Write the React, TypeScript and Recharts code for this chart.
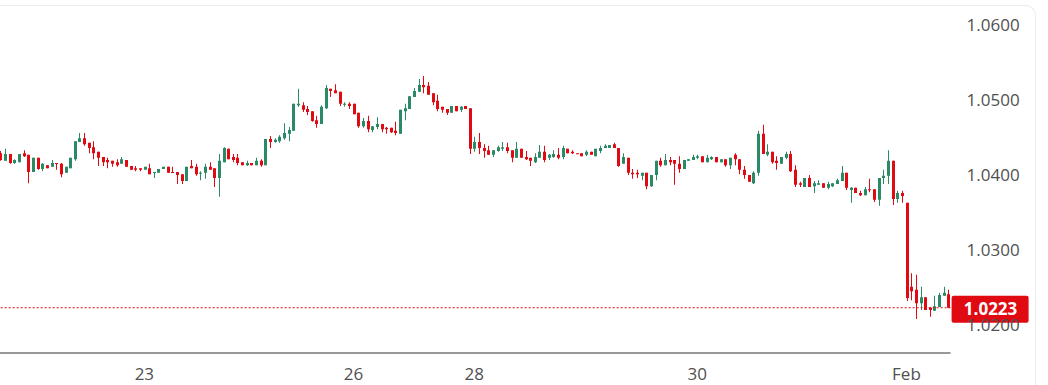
import React from 'react';
import { Bar, ComposedChart, ReferenceLine, XAxis, YAxis } from 'recharts';

// hourly EUR/USD candles, oldest first
const opens = [
  1.0429, 1.0419, 1.0428, 1.0416, 1.0417, 1.0429, 1.0427, 1.0404, 1.0423, 1.0408,
  1.0413, 1.0411, 1.0416, 1.0415, 1.0403, 1.0409, 1.0421, 1.0444, 1.0449, 1.0443,
  1.0437, 1.0431, 1.0424, 1.042, 1.0419, 1.0417, 1.0415, 1.042, 1.0412, 1.0409,
  1.0409, 1.0407, 1.0409, 1.0403, 1.0403, 1.0408, 1.0411, 1.0404, 1.0404, 1.0401,
  1.0392, 1.0412, 1.0411, 1.0402, 1.0403, 1.0411, 1.0409, 1.0396, 1.0417, 1.0435,
  1.0424, 1.0423, 1.0417, 1.0413, 1.0416, 1.0413, 1.0419, 1.0413, 1.0448, 1.0444,
  1.0445, 1.0449, 1.0455, 1.0459, 1.0493, 1.0493, 1.0488, 1.0485, 1.0473, 1.0468,
  1.0489, 1.0515, 1.0513, 1.0511, 1.0494, 1.0495, 1.0495, 1.0483, 1.0465, 1.0472,
  1.046, 1.0464, 1.0468, 1.0463, 1.0463, 1.0459, 1.0455, 1.0485, 1.0488, 1.0504,
  1.0511, 1.052, 1.0519, 1.0509, 1.0499, 1.0491, 1.0488, 1.0483, 1.0492, 1.0487,
  1.0492, 1.0489, 1.0435, 1.0444, 1.0436, 1.0433, 1.0427, 1.0432, 1.0435, 1.0437,
  1.0433, 1.0423, 1.0435, 1.0424, 1.0423, 1.0417, 1.0423, 1.0431, 1.0423, 1.0424,
  1.0427, 1.0424, 1.0435, 1.0431, 1.0429, 1.0429, 1.0427, 1.0431, 1.0425, 1.0432,
  1.0436, 1.0436, 1.0441, 1.0436, 1.0415, 1.0423, 1.0403, 1.0403, 1.0399, 1.0403,
  1.0385, 1.04, 1.0419, 1.0413, 1.042, 1.042, 1.0415, 1.0408, 1.0419, 1.042,
  1.0423, 1.0425, 1.0417, 1.0421, 1.0424, 1.0417, 1.0421, 1.0413, 1.0427, 1.0421,
  1.0407, 1.04, 1.0389, 1.0403, 1.0455, 1.0427, 1.0431, 1.0419, 1.0415, 1.0423,
  1.0428, 1.0407, 1.0389, 1.0384, 1.0396, 1.0385, 1.0387, 1.0389, 1.0383, 1.0385,
  1.0388, 1.0392, 1.0403, 1.038, 1.0383, 1.0376, 1.0373, 1.0381, 1.0381, 1.0367,
  1.0396, 1.0399, 1.0419, 1.0368, 1.0376, 1.0363, 1.0251, 1.0247, 1.0229, 1.0237,
  1.0223, 1.0219, 1.0224, 1.0239, 1.0241,
];

const highs = [
  1.0432, 1.0435, 1.0428, 1.0421, 1.0428, 1.0433, 1.0427, 1.0423, 1.0423, 1.0416,
  1.0413, 1.042, 1.0416, 1.0416, 1.0411, 1.0423, 1.0445, 1.0456, 1.0456, 1.0443,
  1.0445, 1.0431, 1.0424, 1.0423, 1.0419, 1.0421, 1.0424, 1.042, 1.0412, 1.0412,
  1.0409, 1.0411, 1.0415, 1.0404, 1.0408, 1.0411, 1.0411, 1.0411, 1.0404, 1.0401,
  1.0411, 1.042, 1.0415, 1.0405, 1.0415, 1.0417, 1.0409, 1.0428, 1.0437, 1.0435,
  1.0428, 1.0428, 1.0417, 1.0419, 1.0416, 1.0423, 1.0421, 1.0448, 1.0452, 1.0449,
  1.0453, 1.0469, 1.0464, 1.0495, 1.0515, 1.0497, 1.0492, 1.0485, 1.0479, 1.0493,
  1.052, 1.0515, 1.0521, 1.0511, 1.0497, 1.0497, 1.0495, 1.0483, 1.0476, 1.0479,
  1.0465, 1.0477, 1.0468, 1.0464, 1.0463, 1.0471, 1.0487, 1.0495, 1.0505, 1.0516,
  1.0528, 1.0532, 1.0524, 1.0509, 1.0507, 1.0491, 1.0488, 1.0492, 1.0492, 1.0492,
  1.0492, 1.0489, 1.0451, 1.0456, 1.0441, 1.0439, 1.0433, 1.0439, 1.0444, 1.0443,
  1.0433, 1.0444, 1.0435, 1.0432, 1.0423, 1.0429, 1.044, 1.0439, 1.0428, 1.0433,
  1.0436, 1.0439, 1.0435, 1.0433, 1.0429, 1.0429, 1.0433, 1.0431, 1.0435, 1.0439,
  1.0441, 1.044, 1.0443, 1.0436, 1.0429, 1.0423, 1.0408, 1.0407, 1.0403, 1.0403,
  1.04, 1.0419, 1.0423, 1.0428, 1.0424, 1.042, 1.0425, 1.042, 1.0421, 1.0427,
  1.0427, 1.0425, 1.0427, 1.0425, 1.0424, 1.0421, 1.0421, 1.0423, 1.0429, 1.0421,
  1.0412, 1.04, 1.0405, 1.0459, 1.0467, 1.0441, 1.0431, 1.0425, 1.0424, 1.0431,
  1.0432, 1.0413, 1.0391, 1.0396, 1.04, 1.0392, 1.0393, 1.0389, 1.0391, 1.0389,
  1.0395, 1.0412, 1.0403, 1.0384, 1.0383, 1.0379, 1.0384, 1.0395, 1.0381, 1.0396,
  1.0407, 1.0433, 1.0419, 1.0379, 1.0379, 1.0363, 1.0269, 1.0267, 1.0251, 1.0237,
  1.0224, 1.0239, 1.0243, 1.0251, 1.0247,
];

const lows = [
  1.0419, 1.0419, 1.0415, 1.0415, 1.0417, 1.0424, 1.0389, 1.0404, 1.0407, 1.0405,
  1.0409, 1.0411, 1.0407, 1.0397, 1.0403, 1.0409, 1.0419, 1.0444, 1.0439, 1.0429,
  1.0421, 1.0412, 1.0412, 1.0409, 1.0411, 1.0411, 1.0415, 1.0411, 1.0407, 1.0405,
  1.0405, 1.0407, 1.0401, 1.0396, 1.0403, 1.0408, 1.0403, 1.0403, 1.0388, 1.0388,
  1.0392, 1.0409, 1.0399, 1.0393, 1.0395, 1.0407, 1.0384, 1.0371, 1.0417, 1.0421,
  1.0417, 1.0413, 1.0413, 1.0412, 1.0413, 1.0413, 1.0411, 1.0413, 1.0436, 1.0443,
  1.0443, 1.0447, 1.0445, 1.0459, 1.0491, 1.0484, 1.048, 1.0471, 1.0463, 1.0468,
  1.0488, 1.0504, 1.0509, 1.0492, 1.0491, 1.0488, 1.0481, 1.0463, 1.0463, 1.0457,
  1.0457, 1.0461, 1.0457, 1.0455, 1.0456, 1.0453, 1.0455, 1.0473, 1.0488, 1.0504,
  1.0511, 1.0509, 1.0507, 1.0493, 1.0485, 1.0483, 1.048, 1.0483, 1.0485, 1.0484,
  1.0488, 1.0428, 1.0431, 1.0428, 1.0423, 1.0427, 1.0424, 1.0431, 1.0432, 1.0429,
  1.0417, 1.0423, 1.0423, 1.042, 1.0412, 1.0416, 1.0423, 1.0417, 1.042, 1.0423,
  1.0421, 1.0421, 1.0429, 1.0428, 1.0428, 1.0425, 1.0425, 1.0427, 1.0425, 1.0429,
  1.0436, 1.0436, 1.0436, 1.0411, 1.0415, 1.04, 1.0395, 1.0396, 1.0393, 1.0381,
  1.0384, 1.0393, 1.0411, 1.0413, 1.0413, 1.0387, 1.0403, 1.0408, 1.0419, 1.042,
  1.0421, 1.0417, 1.0417, 1.042, 1.0417, 1.0417, 1.0411, 1.0408, 1.0413, 1.0401,
  1.0395, 1.0391, 1.0388, 1.0399, 1.0428, 1.0425, 1.0415, 1.0407, 1.0415, 1.0421,
  1.0404, 1.0384, 1.0384, 1.0384, 1.0384, 1.0376, 1.0387, 1.0383, 1.0381, 1.0384,
  1.0388, 1.0392, 1.038, 1.0363, 1.0376, 1.0372, 1.0373, 1.0377, 1.0364, 1.0359,
  1.0388, 1.0388, 1.036, 1.0363, 1.0363, 1.0232, 1.0233, 1.0208, 1.022, 1.022,
  1.0211, 1.0219, 1.0224, 1.0239, 1.0223,
];

const closes = [
  1.042, 1.0428, 1.0416, 1.042, 1.0428, 1.0425, 1.0404, 1.0423, 1.0408, 1.0415,
  1.0409, 1.0416, 1.0415, 1.0401, 1.0411, 1.0423, 1.0445, 1.0449, 1.0441, 1.0436,
  1.0429, 1.0423, 1.0417, 1.0417, 1.0415, 1.0413, 1.0421, 1.0411, 1.0407, 1.0407,
  1.0407, 1.0411, 1.0401, 1.0404, 1.0408, 1.0411, 1.0403, 1.0403, 1.04, 1.0392,
  1.0411, 1.0409, 1.0401, 1.0403, 1.0411, 1.0407, 1.0396, 1.0419, 1.0436, 1.0421,
  1.042, 1.0416, 1.0413, 1.0416, 1.0413, 1.0419, 1.0413, 1.0448, 1.0444, 1.0447,
  1.0451, 1.0456, 1.046, 1.0495, 1.0495, 1.0487, 1.0484, 1.0472, 1.0468, 1.0491,
  1.0516, 1.0512, 1.0509, 1.0495, 1.0495, 1.0492, 1.0481, 1.0465, 1.0472, 1.0461,
  1.0465, 1.0468, 1.0461, 1.0461, 1.0457, 1.0456, 1.0487, 1.0489, 1.0505, 1.0512,
  1.052, 1.0517, 1.0507, 1.0497, 1.0488, 1.0487, 1.0483, 1.0492, 1.0485, 1.0491,
  1.0488, 1.0435, 1.0444, 1.0436, 1.0432, 1.0427, 1.0433, 1.0437, 1.0437, 1.0432,
  1.0423, 1.0435, 1.0423, 1.0421, 1.0419, 1.0424, 1.0431, 1.042, 1.0427, 1.0428,
  1.0423, 1.0436, 1.0429, 1.0429, 1.0428, 1.0425, 1.0431, 1.0427, 1.0435, 1.0436,
  1.0439, 1.044, 1.0436, 1.0412, 1.0424, 1.0403, 1.0401, 1.0401, 1.0403, 1.0385,
  1.04, 1.0419, 1.0413, 1.042, 1.0417, 1.0415, 1.0408, 1.042, 1.0421, 1.0424,
  1.0425, 1.0417, 1.0423, 1.0424, 1.0417, 1.0421, 1.0413, 1.0423, 1.0421, 1.0407,
  1.04, 1.0391, 1.0403, 1.0455, 1.0428, 1.0431, 1.0417, 1.0416, 1.0424, 1.0428,
  1.0405, 1.0387, 1.0387, 1.0396, 1.0384, 1.0389, 1.0389, 1.0383, 1.0388, 1.0389,
  1.0393, 1.0403, 1.0383, 1.0383, 1.0376, 1.0373, 1.0381, 1.038, 1.0367, 1.0396,
  1.0399, 1.0419, 1.0368, 1.0376, 1.0372, 1.0236, 1.0245, 1.0229, 1.0237, 1.022,
  1.022, 1.0225, 1.024, 1.0243, 1.0223,
];

// day labels and the candle they sit under
const dayLabels = ['23', '26', '28', '30', 'Feb'];
const dayTicks = [31, 76, 102, 150, 195];

const priceTicks = [1.02, 1.03, 1.04, 1.05, 1.06];

const GREEN = '#2a8a66';
const RED = '#e00b12';
const FONT = '"Open Sans", sans-serif';

const rows = opens.map((o, i) => ({
  i,
  o,
  h: highs[i],
  l: lows[i],
  c: closes[i],
  range: [lows[i], highs[i]],
}));

const lastPrice = closes[closes.length - 1];

const Candle = (props: any) => {
  const { x, y, width, height, payload } = props;
  if (!payload) return null;
  const { o, h, l, c } = payload;
  const top = Math.min(y, y + height);
  const bottom = Math.max(y, y + height);
  const k = (bottom - top) / (h - l);
  const toY = (v: number) => top + (h - v) * k;
  const cx = Math.round(x + width / 2);
  const color = c > o ? GREEN : RED;
  const bodyTop = toY(Math.max(o, c));
  const bodyBottom = toY(Math.min(o, c));
  return (
    <g>
      <line x1={cx + 0.5} x2={cx + 0.5} y1={top} y2={bottom} stroke={color} strokeWidth={1} />
      <rect
        x={cx - 1}
        y={bodyTop}
        width={3}
        height={Math.max(1, bodyBottom - bodyTop)}
        fill={color}
      />
    </g>
  );
};

const PriceTag = (props: any) => {
  const vb = props.viewBox;
  if (!vb) return null;
  const left = vb.x + vb.width;
  return (
    <g>
      <rect x={left + 1} y={vb.y - 12} width={77} height={27} rx={2} fill={RED} />
      <text
        x={left + 40}
        y={vb.y + 7}
        textAnchor="middle"
        fill="#fff"
        fontSize={17}
        fontWeight={700}
        fontFamily={FONT}
      >
        {lastPrice.toFixed(4)}
      </text>
    </g>
  );
};

export default function App() {
  return (
    <div style={{ position: 'absolute', left: 0, top: 0, width: 1048, height: 385, overflow: 'hidden', background: '#fff', fontFamily: FONT }}>
      <div
        style={{
          position: 'absolute',
          left: -20,
          top: 5,
          width: 1056,
          height: 380,
          boxSizing: 'border-box',
          border: '1px solid #ececec',
          borderBottom: 'none',
          borderRadius: '0 10px 0 0',
        }}
      />
      <div style={{ position: 'absolute', left: -2.3, top: 0 }}>
        <ComposedChart
          width={1050}
          height={385}
          data={rows}
          margin={{ top: 5, right: 0, bottom: 0, left: 0 }}
        >
          <XAxis
            dataKey="i"
            height={32}
            ticks={dayTicks}
            interval={0}
            tickFormatter={(v: number) => dayLabels[dayTicks.indexOf(v)] ?? ''}
            axisLine={{ stroke: '#333' }}
            tickLine={false}
            tickSize={0}
            tickMargin={15}
            tick={{ fontSize: 17, fill: '#505050', fontFamily: FONT }}
          />
          <YAxis
            orientation="right"
            type="number"
            domain={[1.016267, 1.062667]}
            allowDataOverflow
            ticks={priceTicks}
            tickFormatter={(v: number) => v.toFixed(4)}
            width={97.4}
            axisLine={false}
            tickLine={false}
            tickSize={0}
            tickMargin={16}
            tick={{ fontSize: 17, fill: '#505050', fontFamily: FONT, textAnchor: 'start' }}
          />
          <Bar dataKey="range" shape={(p: any) => <Candle {...p} />} isAnimationActive={false} />
          <ReferenceLine
            y={lastPrice}
            stroke={RED}
            strokeDasharray="2 2"
            label={(p: any) => <PriceTag {...p} />}
          />
        </ComposedChart>
      </div>
    </div>
  );
}
